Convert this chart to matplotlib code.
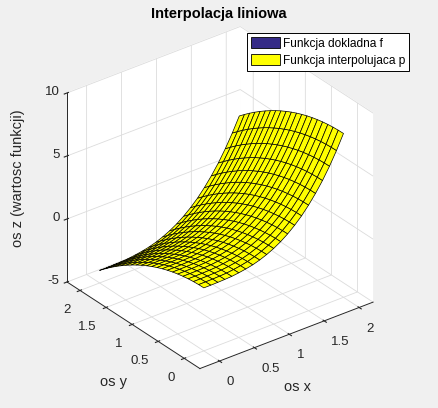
import numpy as np
import matplotlib
matplotlib.use("Agg")
from matplotlib import pyplot as plt
from matplotlib.patches import Patch

# wezly siatki
x_nodes = [0.0, 0.1, 0.2, 0.3, 0.4, 0.5, 0.6, 0.7, 0.8, 0.9, 1.0,
           1.1, 1.2, 1.3, 1.4, 1.5, 1.6, 1.7, 1.8, 1.9, 2.0]
y_nodes = [0.0, 0.1, 0.2, 0.3, 0.4, 0.5, 0.6, 0.7, 0.8, 0.9, 1.0,
           1.1, 1.2, 1.3, 1.4, 1.5, 1.6, 1.7, 1.8, 1.9, 2.0]

# wartosci p(x, y): wiersz = y, kolumna = x
z_values = [
    [0.00, 0.00, 0.01, 0.03, 0.06, 0.13, 0.22, 0.34, 0.51, 0.73, 1.00, 1.33, 1.73, 2.20, 2.74, 3.38, 4.10, 4.91, 5.83, 6.86, 8.00],
    [-0.01, -0.01, 0.00, 0.02, 0.05, 0.12, 0.21, 0.33, 0.50, 0.72, 0.99, 1.32, 1.72, 2.19, 2.73, 3.37, 4.09, 4.90, 5.82, 6.85, 7.99],
    [-0.04, -0.04, -0.03, -0.01, 0.02, 0.09, 0.18, 0.30, 0.47, 0.69, 0.96, 1.29, 1.69, 2.16, 2.70, 3.34, 4.06, 4.87, 5.79, 6.82, 7.96],
    [-0.09, -0.09, -0.08, -0.06, -0.03, 0.04, 0.13, 0.25, 0.42, 0.64, 0.91, 1.24, 1.64, 2.11, 2.65, 3.29, 4.01, 4.82, 5.74, 6.77, 7.91],
    [-0.16, -0.16, -0.15, -0.13, -0.10, -0.03, 0.06, 0.18, 0.35, 0.57, 0.84, 1.17, 1.57, 2.04, 2.58, 3.22, 3.94, 4.75, 5.67, 6.70, 7.84],
    [-0.25, -0.25, -0.24, -0.22, -0.19, -0.12, -0.03, 0.09, 0.26, 0.48, 0.75, 1.08, 1.48, 1.95, 2.49, 3.13, 3.85, 4.66, 5.58, 6.61, 7.75],
    [-0.36, -0.36, -0.35, -0.33, -0.30, -0.23, -0.14, -0.02, 0.15, 0.37, 0.64, 0.97, 1.37, 1.84, 2.38, 3.02, 3.74, 4.55, 5.47, 6.50, 7.64],
    [-0.49, -0.49, -0.48, -0.46, -0.43, -0.36, -0.27, -0.15, 0.02, 0.24, 0.51, 0.84, 1.24, 1.71, 2.25, 2.89, 3.61, 4.42, 5.34, 6.37, 7.51],
    [-0.64, -0.64, -0.63, -0.61, -0.58, -0.51, -0.42, -0.30, -0.13, 0.09, 0.36, 0.69, 1.09, 1.56, 2.10, 2.74, 3.46, 4.27, 5.19, 6.22, 7.36],
    [-0.81, -0.81, -0.80, -0.78, -0.75, -0.68, -0.59, -0.47, -0.30, -0.08, 0.19, 0.52, 0.92, 1.39, 1.93, 2.57, 3.29, 4.10, 5.02, 6.05, 7.19],
    [-1.00, -1.00, -0.99, -0.97, -0.94, -0.87, -0.78, -0.66, -0.49, -0.27, 0.00, 0.33, 0.73, 1.20, 1.74, 2.38, 3.10, 3.91, 4.83, 5.86, 7.00],
    [-1.21, -1.21, -1.20, -1.18, -1.15, -1.08, -0.99, -0.87, -0.70, -0.48, -0.21, 0.12, 0.52, 0.99, 1.53, 2.17, 2.89, 3.70, 4.62, 5.65, 6.79],
    [-1.44, -1.44, -1.43, -1.41, -1.38, -1.31, -1.22, -1.10, -0.93, -0.71, -0.44, -0.11, 0.29, 0.76, 1.30, 1.94, 2.66, 3.47, 4.39, 5.42, 6.56],
    [-1.69, -1.69, -1.68, -1.66, -1.63, -1.56, -1.47, -1.35, -1.18, -0.96, -0.69, -0.36, 0.04, 0.51, 1.05, 1.69, 2.41, 3.22, 4.14, 5.17, 6.31],
    [-1.96, -1.96, -1.95, -1.93, -1.90, -1.83, -1.74, -1.62, -1.45, -1.23, -0.96, -0.63, -0.23, 0.24, 0.78, 1.42, 2.14, 2.95, 3.87, 4.90, 6.04],
    [-2.25, -2.25, -2.24, -2.22, -2.19, -2.12, -2.03, -1.91, -1.74, -1.52, -1.25, -0.92, -0.52, -0.05, 0.49, 1.13, 1.85, 2.66, 3.58, 4.61, 5.75],
    [-2.56, -2.56, -2.55, -2.53, -2.50, -2.43, -2.34, -2.22, -2.05, -1.83, -1.56, -1.23, -0.83, -0.36, 0.18, 0.82, 1.54, 2.35, 3.27, 4.30, 5.44],
    [-2.89, -2.89, -2.88, -2.86, -2.83, -2.76, -2.67, -2.55, -2.38, -2.16, -1.89, -1.56, -1.16, -0.69, -0.15, 0.49, 1.21, 2.02, 2.94, 3.97, 5.11],
    [-3.24, -3.24, -3.23, -3.21, -3.18, -3.11, -3.02, -2.90, -2.73, -2.51, -2.24, -1.91, -1.51, -1.04, -0.50, 0.14, 0.86, 1.67, 2.59, 3.62, 4.76],
    [-3.61, -3.61, -3.60, -3.58, -3.55, -3.48, -3.39, -3.27, -3.10, -2.88, -2.61, -2.28, -1.88, -1.41, -0.87, -0.23, 0.49, 1.30, 2.22, 3.25, 4.39],
    [-4.00, -4.00, -3.99, -3.97, -3.94, -3.87, -3.78, -3.66, -3.49, -3.27, -3.00, -2.67, -2.27, -1.80, -1.26, -0.62, 0.10, 0.91, 1.83, 2.86, 4.00],
]

legend_labels = ['Funkcja dokladna f', 'Funkcja interpolujaca p']
legend_colors = ['#352a87', '#ffff00']
x_ticks = [0, 0.5, 1, 1.5, 2]
y_ticks = [0, 0.5, 1, 1.5, 2]
z_ticks = [-5, 0, 5, 10]
xy_tick_labels = ['0', '0.5', '1', '1.5', '2']
z_tick_labels = ['-5', '0', '5', '10']

plt.rcParams['font.family'] = ['Liberation Sans', 'DejaVu Sans']
plt.rcParams['grid.color'] = '#dcdcdc'
plt.rcParams['grid.linewidth'] = 0.6
plt.rcParams['axes.edgecolor'] = '#262626'
plt.rcParams['axes.linewidth'] = 0.7
plt.rcParams['xtick.color'] = '#262626'
plt.rcParams['ytick.color'] = '#262626'
plt.rcParams['xtick.labelsize'] = 9.5
plt.rcParams['ytick.labelsize'] = 9.5

fig = plt.figure(figsize=(4.38, 4.08), dpi=100, facecolor='#f0f0f0')
W, H = 438, 408
side = 367
cx, cy = 215.1, 202.5   # srodek osi w pikselach (od gory)
ax = fig.add_axes([(cx - side / 2) / W, (H - cy - side / 2) / H, side / W, side / H],
                  projection='3d', proj_type='ortho')
ax.set_facecolor('#f0f0f0')
ax.view_init(elev=30, azim=-127.5)
ax.set_box_aspect((1, 1, 1))

X, Y = np.meshgrid(x_nodes, y_nodes)
Z = np.array(z_values)
ax.plot_surface(X, Y, Z, color='yellow', edgecolor='black', linewidth=0.5,
                shade=False, rstride=1, cstride=1)

ax.set_xlim(-0.28, 2.2)
ax.set_ylim(-0.3, 2.25)
ax.set_zlim(-5, 10)
ax.set_xticks(x_ticks)
ax.set_yticks(y_ticks)
ax.set_zticks(z_ticks)
ax.set_xticklabels(xy_tick_labels, ha='left')
ax.set_yticklabels(xy_tick_labels, ha='right')
ax.set_zticklabels(z_tick_labels, ha='right', va='center')
ax.tick_params(axis='x', pad=-0.5)
ax.tick_params(axis='y', pad=-0.5)
ax.tick_params(axis='z', labelsize=9.5, colors='#262626', pad=-4.6)

for axis in (ax.xaxis, ax.yaxis, ax.zaxis):
    axis.set_pane_color((1, 1, 1, 1))

# opisy osi i tytul
fig.text(219 / W, 1 - 14 / H, 'Interpolacja liniowa', ha='center', va='center',
         fontsize=10.5, fontweight='bold', color='black')
fig.text(297 / W, 1 - 387 / H, 'os x', ha='center', va='center', fontsize=10.5, color='#262626')
fig.text(113 / W, 1 - 382 / H, 'os y', ha='center', va='center', fontsize=10.5, color='#262626')
fig.text(18 / W, 1 - 178 / H, 'os z (wartosc funkcji)', ha='center', va='center',
         rotation=90, fontsize=10.5, color='#262626')

handles = [Patch(facecolor=c, edgecolor='black', linewidth=0.6) for c in legend_colors]
leg = fig.legend(handles, legend_labels, loc='upper left',
                 bbox_to_anchor=(247 / W, 1 - 33 / H), borderaxespad=0,
                 fontsize=8.6, frameon=True, fancybox=False, edgecolor='black',
                 framealpha=1, handlelength=2.4, handleheight=1.0,
                 handletextpad=0.25, labelspacing=0.4, borderpad=0.35)
leg.get_frame().set_linewidth(0.7)

fig.savefig('out.png', dpi=100, facecolor=fig.get_facecolor())
